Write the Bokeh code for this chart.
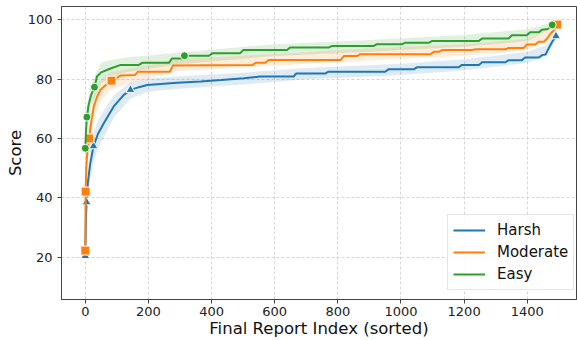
from bokeh.plotting import figure
from bokeh.models import Range1d, Legend, LegendItem, FixedTicker
from bokeh.embed import file_html
from bokeh.resources import INLINE

# ---- data ----
# Harsh
harsh_x = [0, 1, 2, 4, 8, 15, 26, 40, 59, 90, 122, 143, 170, 196, 291, 365, 430, 502, 555, 660, 668, 760, 770, 950, 960, 1040, 1050, 1183, 1193, 1247, 1257, 1331, 1341, 1383, 1393, 1437, 1447, 1458, 1465, 1479, 1491]
harsh_y = [20.4, 27, 33, 38.5, 45, 51, 57.4, 61.5, 65.2, 70.8, 74.7, 76.4, 77.3, 78.0, 78.8, 79.2, 79.7, 80.3, 80.9, 80.9, 81.9, 81.9, 82.5, 82.5, 83.3, 83.3, 84.0, 84.0, 84.8, 84.8, 85.7, 85.7, 86.4, 86.4, 87.3, 87.3, 88.1, 88.3, 89.8, 92.6, 94.5]
harsh_band_x = [0, 4, 15, 26, 40, 59, 90, 143, 200, 300, 500, 700, 1000, 1200, 1400, 1463, 1491]
harsh_band_lo = [19.5, 35, 46, 52, 56.5, 60.5, 67, 73.5, 75.8, 76.8, 78.2, 80, 81.4, 82.9, 85.5, 88, 93.5]
harsh_band_hi = [21.5, 42, 56, 62, 66, 69.5, 74.5, 79, 80.2, 81, 82.2, 83.8, 85.2, 86.7, 89.2, 91.6, 95.5]
harsh_mark_x = [0, 4, 26, 143, 1491]
harsh_mark_y = [20.4, 38.5, 57.4, 76.4, 94.5]

# Moderate
moderate_x = [0, 1, 3, 6, 12, 18, 27, 37, 48, 65, 83, 112, 158, 166, 268, 278, 530, 540, 571, 581, 809, 819, 861, 871, 1094, 1104, 1120, 1130, 1225, 1235, 1331, 1341, 1389, 1399, 1426, 1436, 1453, 1463, 1474, 1490, 1495]
moderate_y = [22.2, 42.1, 50, 55, 60, 65, 70.8, 74, 76.4, 78, 79.5, 81.2, 81.4, 82.5, 82.5, 84.6, 84.8, 85.5, 85.5, 86.5, 86.5, 87.8, 87.8, 88.4, 88.4, 89.2, 89.2, 89.8, 89.8, 90.1, 90.1, 90.5, 90.5, 91.7, 91.7, 92.6, 92.6, 93.7, 95.4, 97.0, 98.4]
moderate_band_x = [0, 1, 6, 12, 27, 48, 83, 150, 300, 600, 900, 1200, 1400, 1474, 1495]
moderate_band_lo = [21.5, 38, 50, 55, 66, 72.5, 76.5, 79, 82.8, 84.5, 86.4, 87.8, 89.8, 93.5, 97.5]
moderate_band_hi = [23, 46, 60, 65, 75, 80, 82.5, 83.8, 86.8, 88.5, 90.4, 91.8, 93.6, 97.2, 99.3]
moderate_mark_x = [0, 1, 12, 83, 1495]
moderate_mark_y = [22.2, 42.1, 60.0, 79.5, 98.4]

# Easy
easy_x = [0, 2, 5, 10, 18, 29, 37, 50, 80, 112, 170, 180, 265, 275, 305, 315, 392, 402, 490, 500, 639, 649, 772, 782, 914, 924, 1004, 1014, 1089, 1099, 1247, 1257, 1341, 1351, 1399, 1409, 1437, 1447, 1465, 1474, 1479]
easy_y = [56.7, 62, 67.2, 71, 74.5, 77.3, 80.9, 82.3, 83.6, 84.8, 84.8, 85.5, 85.5, 87.0, 87.0, 87.9, 87.9, 88.7, 88.7, 89.8, 89.8, 90.7, 90.7, 91.2, 91.2, 91.8, 91.8, 92.3, 92.3, 92.9, 92.9, 93.7, 93.7, 94.8, 94.8, 95.8, 95.8, 96.7, 96.9, 97.6, 98.3]
easy_band_x = [0, 5, 18, 29, 50, 80, 130, 300, 600, 900, 1200, 1400, 1479]
easy_band_lo = [55.5, 63, 70.5, 73.5, 78.5, 80.5, 82.3, 85, 87.8, 89.2, 90.9, 92.8, 97.3]
easy_band_hi = [58, 71, 78.5, 81, 85.5, 86.5, 87.3, 89, 91.8, 93.2, 94.9, 96.8, 99.2]
easy_mark_x = [0, 5, 29, 314, 1479]
easy_mark_y = [56.7, 67.2, 77.3, 87.9, 98.3]

x_ticks = [0, 200, 400, 600, 800, 1000, 1200, 1400]
y_ticks = [20, 40, 60, 80, 100]

series = [
    ("Harsh", "#1f77b4", harsh_x, harsh_y, harsh_band_x, harsh_band_lo, harsh_band_hi, harsh_mark_x, harsh_mark_y, "triangle", 9),
    ("Moderate", "#ff7f0e", moderate_x, moderate_y, moderate_band_x, moderate_band_lo, moderate_band_hi, moderate_mark_x, moderate_mark_y, "square", 9),
    ("Easy", "#2ca02c", easy_x, easy_y, easy_band_x, easy_band_lo, easy_band_hi, easy_mark_x, easy_mark_y, "circle", 8),
]

FONT = "DejaVu Sans"

p = figure(width=577, height=340, output_backend="svg", toolbar_location=None,
           x_range=Range1d(-75.4, 1556), y_range=Range1d(5.7, 104.5),
           min_border_left=61, min_border_right=1, min_border_top=6, min_border_bottom=39)

p.outline_line_color = "#444444"
p.outline_line_width = 1
p.background_fill_color = "white"

for g in (p.xgrid[0], p.ygrid[0]):
    g.grid_line_color = "#cccccc"
    g.grid_line_dash = "3 2"
    g.grid_line_width = 0.8

p.xaxis.ticker = FixedTicker(ticks=x_ticks)
p.yaxis.ticker = FixedTicker(ticks=y_ticks)
for ax in (p.xaxis[0], p.yaxis[0]):
    ax.axis_line_color = "#444444"
    ax.major_tick_line_color = "#444444"
    ax.major_tick_out = 4
    ax.major_tick_in = 0
    ax.minor_tick_out = 0
    ax.minor_tick_in = 0
    ax.major_label_text_font = FONT
    ax.major_label_text_font_size = "13px"
    ax.major_label_text_color = "#222222"
    ax.axis_label_text_font = FONT
    ax.axis_label_text_font_size = "16.5px"
    ax.axis_label_text_font_style = "normal"
    ax.axis_label_text_color = "#111111"
    ax.axis_label_standoff = 0

p.xaxis.major_label_standoff = 3
p.yaxis.major_label_standoff = 5

p.xaxis.axis_label = "Final Report Index (sorted)"
p.yaxis.axis_label = "Score"

for s in series:
    name, color, xs, ys, bx, blo, bhi = s[:7]
    p.varea(x=bx, y1=blo, y2=bhi, fill_color=color, fill_alpha=0.15)

items = []
for s in series:
    name, color, xs, ys, bx, blo, bhi, mx, my, marker, msize = s
    r = p.line(x=xs, y=ys, line_color=color, line_width=2)
    p.scatter(x=mx, y=my, marker=marker, size=msize, fill_color=color,
              line_color="white", line_width=1)
    items.append(LegendItem(label=name, renderers=[r]))

legend = Legend(items=items, location=(386, 9))
legend.label_text_font = FONT
legend.label_text_font_size = "15px"
legend.label_text_color = "#111111"
legend.glyph_width = 32
legend.glyph_height = 20
legend.label_standoff = 12
legend.spacing = 2
legend.padding = 5
legend.margin = 0
legend.border_line_color = "#cccccc"
legend.border_line_width = 1
legend.background_fill_alpha = 0.85
p.add_layout(legend, "center")

open("out.html", "w").write(file_html(p, INLINE))
